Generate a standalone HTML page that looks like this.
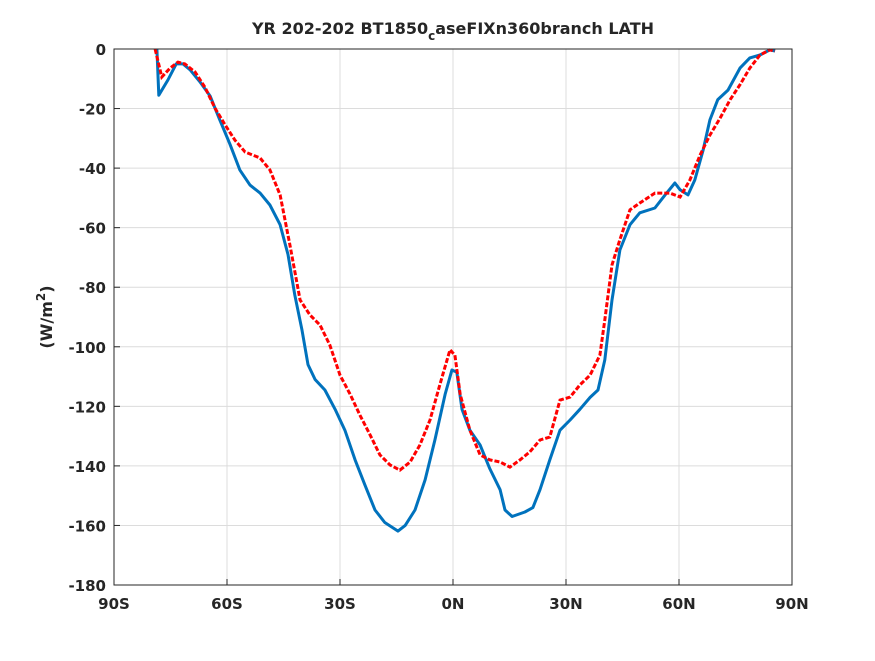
<!DOCTYPE html>
<html><head><meta charset="utf-8"><style>
html,body{margin:0;padding:0;background:#fff;}
svg text{font-family:"DejaVu Sans","Liberation Sans",sans-serif;font-weight:bold;fill:#262626;}
</style></head><body>
<svg id="chart" width="875" height="656" xmlns="http://www.w3.org/2000/svg">
<rect width="875" height="656" fill="#fff"/>
<g id="grid"></g>
<g id="series"></g>
<rect x="114" y="49" width="678" height="536" fill="none" stroke="#262626" stroke-width="1"/>
<g id="ticks"></g>
<text x="453" y="34" text-anchor="middle" font-size="16">YR 202-202 BT1850<tspan font-size="12" dy="6">c</tspan><tspan dy="-6">aseFIXn360branch LATH</tspan></text>
<text transform="translate(52,317) rotate(-90)" text-anchor="middle" font-size="16">(W/m<tspan font-size="12" dy="-7">2</tspan><tspan dy="7">)</tspan></text>
</svg>
<script>
const xTicks=[-90,-60,-30,0,30,60,90];
const xTickLabels=["90S","60S","30S","0N","30N","60N","90N"];
const yTicks=[0,-20,-40,-60,-80,-100,-120,-140,-160,-180];
const blueLat=[-78.6,-78.1,-75.7,-73.5,-71.7,-69.8,-67.2,-64.5,-61.9,-59.2,-56.6,-53.9,-51.2,-48.6,-45.9,-43.8,-42,-40.1,-38.5,-36.6,-34,-31.3,-28.7,-26,-23.4,-20.7,-18.1,-14.6,-12.7,-10.1,-7.4,-4.8,-2.1,-0.3,1,2.4,4.5,7.2,9.8,12.5,13.8,15.7,19.1,21.2,23.1,25.7,28.4,31.1,33.7,36.4,38.5,40.3,42.2,44.3,47,49.6,53.6,56.3,58.9,60.3,62.4,64.2,66.4,68.2,70.3,73,76.2,78.8,81.5,84.1,85.5];
const blueVal=[0,-15.5,-10.4,-5,-5,-7,-11,-15.8,-23.8,-32,-40.6,-45.7,-48.4,-52.4,-59,-69,-82.6,-94.4,-106,-111,-114.5,-121,-128,-138,-146.4,-154.8,-159,-161.9,-160,-154.8,-144.7,-131.3,-116,-107.8,-108.5,-121,-128,-133,-141,-148,-154.8,-157,-155.5,-154,-148,-138,-128,-124.6,-121,-117,-114.5,-104.4,-84.3,-67.5,-59,-55,-53.4,-49,-45,-47.3,-49,-44,-34,-23.8,-17,-13.8,-6.4,-3,-2,-0.3,-0.7];
const redLat=[-79.1,-77.3,-75.1,-73,-71.2,-68.5,-65.8,-63.2,-60.5,-57.9,-55.2,-51.2,-48.6,-45.9,-43.3,-40.6,-38,-35.3,-32.7,-30,-27.3,-24.7,-22,-19.4,-16.7,-14.1,-11.4,-8.8,-6.1,-3.5,-0.8,0.5,1.9,4.5,7.2,9.8,12.5,15.1,17.8,20.4,23.1,25.7,28.4,31.1,33.7,36.4,39,40.3,42.2,44.3,47,49.6,53.6,57.6,60.3,62.9,65.6,68.2,70.9,73.6,76.2,78.8,81.5,84.1,85.5];
const redVal=[0,-9.4,-6.4,-4.4,-5,-7.7,-13,-19.8,-25.5,-30.6,-34.6,-36.6,-40.6,-49,-65.8,-84.3,-89.3,-92.7,-99.4,-109.5,-116,-123,-129.6,-136.3,-139.7,-141.4,-138.7,-133,-124.6,-112.8,-101,-102.8,-116,-128,-136.3,-138,-138.7,-140.4,-138,-135.3,-131.3,-130.3,-117.9,-116.9,-112.8,-109.5,-102.8,-91,-72.5,-64,-54,-51.7,-48.4,-48.4,-49.7,-44,-35.6,-28.9,-23.2,-17,-12,-6.4,-2,-0.3,-0.7];
const X0=114,X1=792,Y0=49,Y1=585;
const xS=v=>X0+(v+90)/180*(X1-X0);
const yS=v=>Y0+(0-v)/180*(Y1-Y0);
const NS="http://www.w3.org/2000/svg";
const grid=document.getElementById('grid'),ticks=document.getElementById('ticks'),series=document.getElementById('series');
function mk(t,a,p){const e=document.createElementNS(NS,t);for(const k in a)e.setAttribute(k,a[k]);p.appendChild(e);return e;}
xTicks.forEach((t,i)=>{const x=xS(t);
 const g=mk('line',{x1:x,x2:x,y1:Y0,y2:Y1,stroke:'#dcdcdc','stroke-width':1},grid);
 
 
 const tl=mk('text',{x:x,y:609,'text-anchor':'middle','font-size':15},ticks);tl.textContent=xTickLabels[i];
 
 
 mk('line',{x1:x,x2:x,y1:Y1,y2:Y1-6,stroke:'#262626'},ticks);
});
yTicks.forEach(t=>{const y=yS(t);
 const g=mk('line',{x1:X0,x2:X1,y1:y,y2:y,stroke:'#dcdcdc','stroke-width':1},grid);
 
 
 const tl=mk('text',{x:106,y:y+6,'text-anchor':'end','font-size':15},ticks);tl.textContent=t;
 
 
 mk('line',{x1:X0,x2:X0+6,y1:y,y2:y,stroke:'#262626'},ticks);
});
function path(lat,val){return lat.map((l,i)=>(i?'L':'M')+xS(l).toFixed(1)+','+yS(val[i]).toFixed(1)).join('');}
const b=mk('path',{d:path(blueLat,blueVal),fill:'none',stroke:'#0072bd','stroke-width':3,'stroke-linejoin':'round'},series);


const r=mk('path',{d:path(redLat,redVal),fill:'none',stroke:'#ff0000','stroke-width':3,'stroke-dasharray':'5 2'},series);


</script>
</body></html>
